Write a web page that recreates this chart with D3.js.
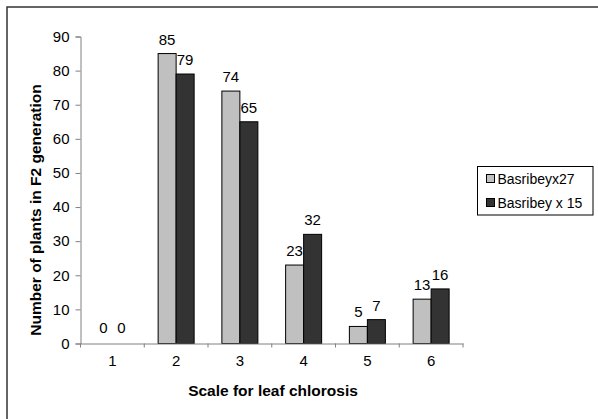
<!DOCTYPE html>
<html><head><meta charset="utf-8">
<script src="https://cdn.jsdelivr.net/npm/d3@7"></script>
<style>
html,body{margin:0;padding:0;background:#fff;}
svg{display:block;font-family:"Liberation Sans",Arial,sans-serif;}
</style></head>
<body>
<svg id="c" width="598" height="419"></svg>
<script>
const categories = ["1","2","3","4","5","6"];
const seriesNames = ["Basribeyx27","Basribey x 15"];
const seriesA = [0,85,74,23,5,13];
const seriesB = [0,79,65,32,7,16];
const yTicks = [0,10,20,30,40,50,60,70,80,90];
const colors = ["#c0c0c0","#333333"];

const svg = d3.select("#c");
const mLeft = 80.5, mRight = 463, mTop = 36.5, mBottom = 343.5;
const FS = 15;

// outer frame (top and left edges visible)
svg.append("path").attr("d","M7,419 V7 H598").attr("fill","none").attr("stroke","#333").attr("stroke-width",1.5);

const x = d3.scaleBand().domain(categories).range([mLeft, mRight]).padding(0);
const bw = x.bandwidth();
const x1 = d3.scaleBand().domain(seriesNames).range([bw/2 - 18, bw/2 + 18]);
const y = d3.scaleLinear().domain([0,90]).range([mBottom, mTop]);

const data = categories.map((c,i)=>({c, vals:[seriesA[i], seriesB[i]]}));

// bars
const g = svg.append("g");
data.forEach(d=>{
  d.vals.forEach((v,j)=>{
    if (v > 0) {
      g.append("rect")
        .attr("x", x(d.c) + x1(seriesNames[j]))
        .attr("y", y(v))
        .attr("width", x1.bandwidth())
        .attr("height", y(0) - y(v))
        .attr("fill", colors[j]).attr("stroke","#000").attr("stroke-width",1);
    }
    g.append("text")
      .attr("x", x(d.c) + x1(seriesNames[j]) + x1.bandwidth()/2)
      .attr("y", y(v) - (v > 0 ? 9 : 11))
      .attr("text-anchor","middle").attr("font-size",FS).attr("fill","#000")
      .text(v);
  });
});

// y axis
const yAxis = svg.append("g").attr("transform",`translate(${mLeft},0)`)
  .call(d3.axisLeft(y).tickValues(yTicks).tickSize(5).tickPadding(6));
yAxis.selectAll("line,path").attr("stroke","#808080");
yAxis.selectAll("text").attr("font-size",FS).attr("fill","#000").attr("font-family","Liberation Sans, Arial, sans-serif");

// x axis
const xAxis = svg.append("g").attr("transform",`translate(0,${mBottom})`)
  .call(d3.axisBottom(x).tickSize(0).tickPadding(12));
xAxis.select("path").attr("stroke","#808080");
xAxis.selectAll("text").attr("font-size",FS).attr("fill","#000").attr("font-family","Liberation Sans, Arial, sans-serif");
const bounds = categories.map(c=>x(c)).concat([x.range()[1]]);
xAxis.selectAll("line.b").data(bounds).enter().append("line")
  .attr("x1",d=>d).attr("x2",d=>d).attr("y1",0).attr("y2",4).attr("stroke","#808080");

// axis titles
svg.append("text").attr("x",273).attr("y",396).attr("text-anchor","middle")
  .attr("font-size",15.5).attr("font-weight","bold").text("Scale for leaf chlorosis");
svg.append("text").attr("transform","translate(40.5,210) rotate(-90)").attr("text-anchor","middle")
  .attr("font-size",15.5).attr("font-weight","bold").text("Number of plants in F2 generation");

// legend
const lg = svg.append("g");
lg.append("rect").attr("x",477.5).attr("y",166.5).attr("width",115.5).attr("height",48.5)
  .attr("fill","#fff").attr("stroke","#000").attr("stroke-width",1);
seriesNames.forEach((s,i)=>{
  const cy = 178.5 + i*24;
  lg.append("rect").attr("x",486.5).attr("y",cy-4).attr("width",8).attr("height",8)
    .attr("fill",colors[i]).attr("stroke","#000").attr("stroke-width",1);
  lg.append("text").attr("x",497.5).attr("y",cy+5).attr("font-size",14).text(s);
});
</script>
</body></html>
